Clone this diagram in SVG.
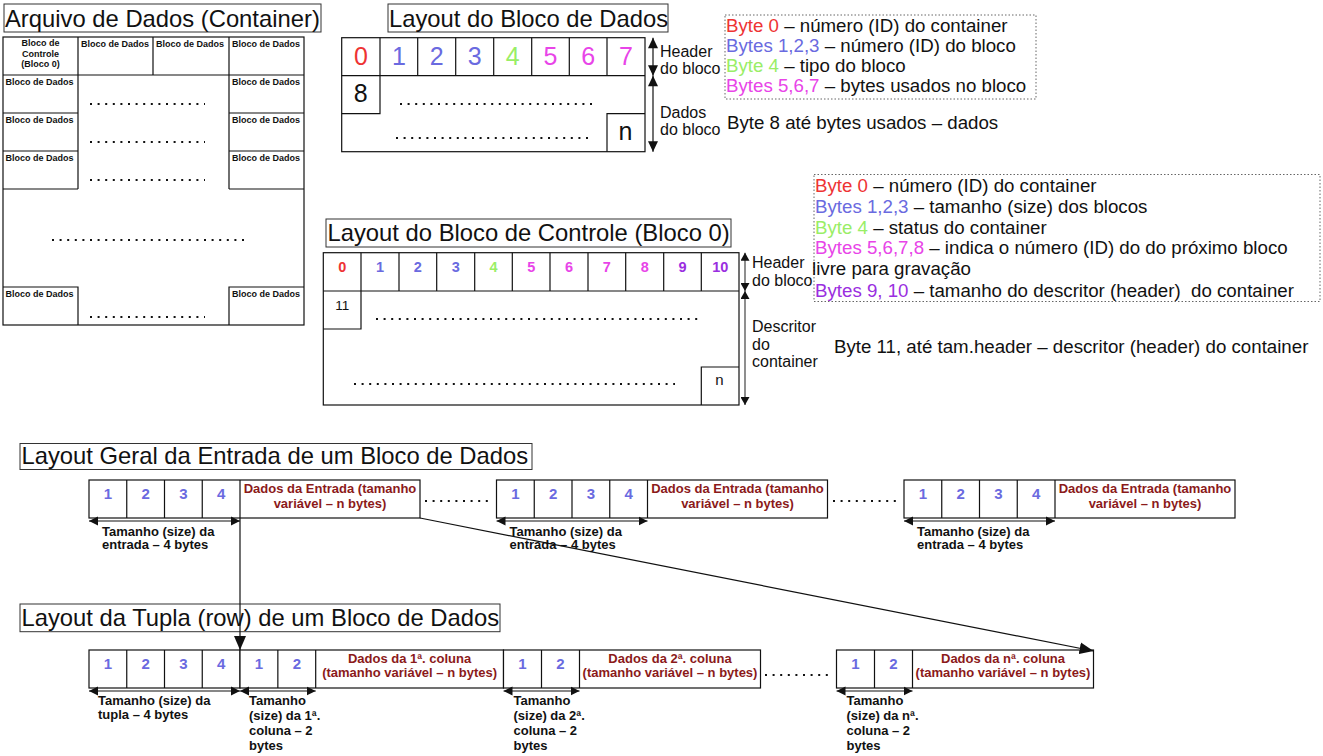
<svg xmlns="http://www.w3.org/2000/svg" width="1323" height="756" viewBox="0 0 1323 756">
<style>
text{font-family:"Liberation Sans",Arial,sans-serif;fill:#111}
.t{font-size:23.8px}
.lg{font-size:18.7px}
.l16{font-size:16px}
.b9{font-size:9px;font-weight:bold}
.b13{font-size:13px;font-weight:bold}
.m{text-anchor:middle}
.dg15{font-size:15px;font-weight:bold;fill:#6a6ae0;text-anchor:middle}
.dr{font-size:13px;font-weight:bold;fill:#8b1a1a;text-anchor:middle}
.big{font-size:25px;text-anchor:middle}
.c14{font-size:14.5px;font-weight:bold;text-anchor:middle}
.box{fill:#fff;stroke:#111;stroke-width:1.2}
.tb{fill:#fff;stroke:#333;stroke-width:1}
.ln{stroke:#111;stroke-width:1.2;fill:none}
.dots{stroke:#111;stroke-width:2;stroke-dasharray:2 5.6;fill:none}
.leg{fill:none;stroke:#666;stroke-width:1;stroke-dasharray:1.5 2}
.red{fill:#ee3333}.blu{fill:#6a6ae0}.grn{fill:#99ee66}.mag{fill:#e844e8}.pur{fill:#9a2ee0}
.dim{stroke:#111;stroke-width:1.2;fill:none;marker-start:url(#ds);marker-end:url(#de)}
.vd{stroke:#111;stroke-width:1.2;fill:none;marker-start:url(#vs);marker-end:url(#ve)}
.vc{stroke:#444;stroke-width:1.2;fill:none;marker-start:url(#cs);marker-end:url(#ce)}
.con{stroke:#111;stroke-width:1.2;fill:none;marker-end:url(#big)}
</style>
<defs>
<marker id="ds" markerUnits="userSpaceOnUse" markerWidth="10" markerHeight="10" refX="0" refY="4.5" orient="auto" viewBox="0 0 10 9"><path d="M0,4.5 L9,0 L9,9 z" fill="#111"/></marker>
<marker id="de" markerUnits="userSpaceOnUse" markerWidth="10" markerHeight="10" refX="9" refY="4.5" orient="auto" viewBox="0 0 10 9"><path d="M0,0 L9,4.5 L0,9 z" fill="#111"/></marker>
<marker id="vs" markerUnits="userSpaceOnUse" markerWidth="11" markerHeight="10" refX="0" refY="5" orient="auto" viewBox="0 0 11 10"><path d="M0,5 L10.5,0 L10.5,10 z" fill="#111"/></marker>
<marker id="ve" markerUnits="userSpaceOnUse" markerWidth="11" markerHeight="10" refX="10.5" refY="5" orient="auto" viewBox="0 0 11 10"><path d="M0,0 L10.5,5 L0,10 z" fill="#111"/></marker>
<marker id="cs" markerUnits="userSpaceOnUse" markerWidth="9" markerHeight="9" refX="0" refY="4.5" orient="auto" viewBox="0 0 9 9"><path d="M0,4.5 L8,0 L8,9 z" fill="#111"/></marker>
<marker id="ce" markerUnits="userSpaceOnUse" markerWidth="9" markerHeight="9" refX="8" refY="4.5" orient="auto" viewBox="0 0 9 9"><path d="M0,0 L8,4.5 L0,9 z" fill="#111"/></marker>
<marker id="big" markerUnits="userSpaceOnUse" markerWidth="15" markerHeight="13" refX="14" refY="6" orient="auto" viewBox="0 0 15 12"><path d="M0,0 L14,6 L0,12 z" fill="#111"/></marker>
</defs>
<rect width="1323" height="756" fill="#fff"/>

<!-- Container -->
<g id="container">
<rect class="tb" x="4" y="4" width="317" height="28"/>
<text class="t" x="5" y="27">Arquivo de Dados (Container)</text>
<rect class="box" x="3" y="37" width="301" height="288"/>
<path class="ln" d="M3,75H304 M78,37V189 M153,37V75 M229,37V189 M3,113H78 M3,151H78 M3,189H78 M229,113H304 M229,151H304 M229,189H304 M3,287H78V325 M229,325V287H304"/>
<text class="b9 m" x="40.5" y="46">Bloco de</text>
<text class="b9 m" x="40.5" y="56.5">Controle</text>
<text class="b9 m" x="40.5" y="67">(Bloco 0)</text>
<text class="b9" x="81" y="46.5">Bloco de Dados</text>
<text class="b9" x="156" y="46.5">Bloco de Dados</text>
<text class="b9" x="232" y="46.5">Bloco de Dados</text>
<text class="b9" x="5.5" y="84.5">Bloco de Dados</text>
<text class="b9" x="5.5" y="122.5">Bloco de Dados</text>
<text class="b9" x="5.5" y="160.5">Bloco de Dados</text>
<text class="b9" x="5.5" y="296.5">Bloco de Dados</text>
<text class="b9" x="232" y="84.5">Bloco de Dados</text>
<text class="b9" x="232" y="122.5">Bloco de Dados</text>
<text class="b9" x="232" y="160.5">Bloco de Dados</text>
<text class="b9" x="232" y="296.5">Bloco de Dados</text>
<path class="dots" d="M90,104H205 M90,142H205 M90,180H205 M90,317H205 M52,240H246"/>
</g>

<!-- Layout do Bloco de Dados -->
<g id="bloco-dados">
<rect class="tb" x="388" y="4" width="280" height="28"/>
<text class="t" x="389" y="27">Layout do Bloco de Dados</text>
<rect class="box" x="341.7" y="37.7" width="303.3" height="114"/>
<path class="ln" d="M341.7,75.7H645 M380,37.7V113.7H341.7 M417.7,37.7V75.7 M455.7,37.7V75.7 M493.7,37.7V75.7 M531.7,37.7V75.7 M569.3,37.7V75.7 M607,37.7V75.7 M607,151.7V113.7H645"/>
<text class="big red" x="360.9" y="65">0</text>
<text class="big blu" x="398.9" y="65">1</text>
<text class="big blu" x="436.7" y="65">2</text>
<text class="big blu" x="474.7" y="65">3</text>
<text class="big grn" x="512.7" y="65">4</text>
<text class="big mag" x="550.5" y="65">5</text>
<text class="big mag" x="588.2" y="65">6</text>
<text class="big mag" x="626" y="65">7</text>
<text class="big" x="360.8" y="102">8</text>
<text class="big" x="625.5" y="140">n</text>
<path class="dots" d="M400,104H595 M396,138H591"/>
<text class="l16" x="660" y="56.5">Header</text>
<text class="l16" x="660" y="74">do bloco</text>
<text class="l16" x="660" y="117.5">Dados</text>
<text class="l16" x="660" y="135">do bloco</text>
<line class="vd" x1="653" y1="37.7" x2="653" y2="75.7"/>
<line class="vd" x1="653" y1="75.7" x2="653" y2="151.7"/>
</g>

<!-- Legenda bloco de dados -->
<g id="legenda-dados">
<rect class="leg" x="725" y="15" width="311" height="84"/>
<text class="lg" x="726" y="31.5"><tspan class="red">Byte 0</tspan> – número (ID) do container</text>
<text class="lg" x="726" y="51.5"><tspan class="blu">Bytes 1,2,3</tspan> – número (ID) do bloco</text>
<text class="lg" x="726" y="71.5"><tspan class="grn">Byte 4</tspan> – tipo do bloco</text>
<text class="lg" x="726" y="92"><tspan class="mag">Bytes 5,6,7</tspan> – bytes usados no bloco</text>
<text class="lg" x="727" y="128.5">Byte 8 até bytes usados – dados</text>
</g>

<!-- Layout do Bloco de Controle -->
<g id="bloco-controle">
<rect class="tb" x="326" y="219" width="405" height="28"/>
<text class="t" x="327.5" y="241">Layout do Bloco de Controle (Bloco 0)</text>
<rect class="box" x="323.3" y="252.7" width="415.7" height="152.3"/>
<path class="ln" d="M323.3,291H739 M361,252.7V329H323.3 M399,252.7V291 M436.7,252.7V291 M474.7,252.7V291 M512.3,252.7V291 M550,252.7V291 M588,252.7V291 M625.7,252.7V291 M663.7,252.7V291 M701.3,252.7V291 M701.3,405V367H739"/>
<text class="c14 red" x="342.2" y="271.7">0</text>
<text class="c14 blu" x="380" y="271.7">1</text>
<text class="c14 blu" x="417.9" y="271.7">2</text>
<text class="c14 blu" x="455.7" y="271.7">3</text>
<text class="c14 grn" x="493.5" y="271.7">4</text>
<text class="c14 mag" x="531.2" y="271.7">5</text>
<text class="c14 mag" x="569" y="271.7">6</text>
<text class="c14 mag" x="606.9" y="271.7">7</text>
<text class="c14 mag" x="644.7" y="271.7">8</text>
<text class="c14 pur" x="682.5" y="271.7">9</text>
<text class="c14 pur" x="720.2" y="271.7">10</text>
<text class="m" style="font-size:13.5px" x="342.3" y="309.5">11</text>
<text class="m" style="font-size:15px" x="719.5" y="384.5">n</text>
<path class="dots" d="M376,319H698 M354,384H675"/>
<text class="l16" x="752" y="268">Header</text>
<text class="l16" x="752" y="286">do bloco</text>
<text class="l16" x="752" y="332">Descritor</text>
<text class="l16" x="752" y="349.5">do</text>
<text class="l16" x="752" y="367">container</text>
<line class="vc" x1="745" y1="252.7" x2="745" y2="291"/>
<line class="vc" x1="745" y1="291" x2="745" y2="405"/>
</g>

<!-- Legenda bloco de controle -->
<g id="legenda-controle">
<rect class="leg" x="814" y="174.5" width="506" height="127"/>
<text class="lg" x="815" y="192"><tspan class="red">Byte 0</tspan> – número (ID) do container</text>
<text class="lg" x="815" y="212.5"><tspan class="blu">Bytes 1,2,3</tspan> – tamanho (size) dos blocos</text>
<text class="lg" x="815" y="233.5"><tspan class="grn">Byte 4</tspan> – status do container</text>
<text class="lg" x="815" y="254"><tspan class="mag">Bytes 5,6,7,8</tspan> – indica o número (ID) do do próximo bloco</text>
<text class="lg" x="812" y="275">livre para gravação</text>
<text class="lg" x="815" y="296.5"><tspan class="pur">Bytes 9, 10</tspan> – tamanho do descritor (header)&#160; do container</text>
<text class="lg" x="834" y="353">Byte 11, até tam.header – descritor (header) do container</text>
</g>

<!-- Layout Geral da Entrada -->
<g id="titulo-entrada">
<rect class="tb" x="20" y="443.5" width="512" height="26"/>
<text class="t" x="21.5" y="463.5">Layout Geral da Entrada de um Bloco de Dados</text>
</g>
<g id="entrada-1">
<rect class="box" x="89" y="480" width="331" height="38"/>
<path class="ln" d="M126.75,480V518 M164.5,480V518 M202.25,480V518 M240,480V518"/>
<text class="dg15" x="107.9" y="499">1</text><text class="dg15" x="145.6" y="499">2</text><text class="dg15" x="183.4" y="499">3</text><text class="dg15" x="221.1" y="499">4</text>
<text class="dr" x="330" y="493">Dados da Entrada (tamanho</text>
<text class="dr" x="330" y="508">variável – n bytes)</text>
<line class="dim" x1="89" y1="521" x2="240" y2="521"/>
<text class="b13" x="102" y="535.5">Tamanho (size) da</text>
<text class="b13" x="102" y="549">entrada – 4 bytes</text>
</g>
<g id="entrada-2">
<rect class="box" x="496.5" y="480" width="331" height="38"/>
<path class="ln" d="M534.25,480V518 M572,480V518 M609.75,480V518 M647.5,480V518"/>
<text class="dg15" x="515.4" y="499">1</text><text class="dg15" x="553.1" y="499">2</text><text class="dg15" x="590.9" y="499">3</text><text class="dg15" x="628.6" y="499">4</text>
<text class="dr" x="737.5" y="493">Dados da Entrada (tamanho</text>
<text class="dr" x="737.5" y="508">variável – n bytes)</text>
<line class="dim" x1="496.5" y1="521" x2="647.5" y2="521"/>
<text class="b13" x="509.5" y="535.5">Tamanho (size) da</text>
<text class="b13" x="509.5" y="549">entrada – 4 bytes</text>
</g>
<g id="entrada-3">
<rect class="box" x="904" y="480" width="331" height="38"/>
<path class="ln" d="M941.75,480V518 M979.5,480V518 M1017.25,480V518 M1055,480V518"/>
<text class="dg15" x="922.9" y="499">1</text><text class="dg15" x="960.6" y="499">2</text><text class="dg15" x="998.4" y="499">3</text><text class="dg15" x="1036.1" y="499">4</text>
<text class="dr" x="1145" y="493">Dados da Entrada (tamanho</text>
<text class="dr" x="1145" y="508">variável – n bytes)</text>
<line class="dim" x1="904" y1="521" x2="1055" y2="521"/>
<text class="b13" x="917" y="535.5">Tamanho (size) da</text>
<text class="b13" x="917" y="549">entrada – 4 bytes</text>
</g>
<path class="dots" d="M425,501H491 M833,501H899"/>

<!-- Layout da Tupla -->
<g id="titulo-tupla">
<rect class="tb" x="20" y="604" width="480" height="27.7"/>
<text class="t" x="21.5" y="626">Layout da Tupla (row) de um Bloco de Dados</text>
</g>
<g id="tupla-tamanho">
<rect class="box" x="89" y="650" width="151" height="38"/>
<path class="ln" d="M126.75,650V688 M164.5,650V688 M202.25,650V688"/>
<text class="dg15" x="107.9" y="669">1</text><text class="dg15" x="145.6" y="669">2</text><text class="dg15" x="183.4" y="669">3</text><text class="dg15" x="221.1" y="669">4</text>
<line class="dim" x1="89" y1="691" x2="240" y2="691"/>
<text class="b13" x="98" y="704.5">Tamanho (size) da</text>
<text class="b13" x="98" y="719">tupla – 4 bytes</text>
</g>
<g id="tupla-coluna-1">
<rect class="box" x="240" y="650" width="263.5" height="38"/>
<path class="ln" d="M277.85,650V688 M315.7,650V688"/>
<text class="dg15" x="258.9" y="669">1</text><text class="dg15" x="296.8" y="669">2</text>
<text class="dr" x="409.6" y="663">Dados da 1ª. coluna</text>
<text class="dr" x="409.6" y="677">(tamanho variável – n bytes)</text>
<line class="dim" x1="240" y1="691" x2="315.7" y2="691"/>
<text class="b13" x="249" y="704.5">Tamanho</text>
<text class="b13" x="249" y="719.5">(size) da 1ª.</text>
<text class="b13" x="249" y="735">coluna – 2</text>
<text class="b13" x="249" y="750">bytes</text>
</g>
<g id="tupla-coluna-2">
<rect class="box" x="503.5" y="650" width="257" height="38"/>
<path class="ln" d="M541.5,650V688 M579.5,650V688"/>
<text class="dg15" x="522.5" y="669">1</text><text class="dg15" x="560.5" y="669">2</text>
<text class="dr" x="670" y="663">Dados da 2ª. coluna</text>
<text class="dr" x="670" y="677">(tamanho variável – n bytes)</text>
<line class="dim" x1="503.5" y1="691" x2="579.5" y2="691"/>
<text class="b13" x="513.5" y="704.5">Tamanho</text>
<text class="b13" x="513.5" y="719.5">(size) da 2ª.</text>
<text class="b13" x="513.5" y="735">coluna – 2</text>
<text class="b13" x="513.5" y="750">bytes</text>
</g>
<path class="dots" d="M765,675H831"/>
<g id="tupla-coluna-n">
<rect class="box" x="836.5" y="650" width="257" height="38"/>
<path class="ln" d="M874.5,650V688 M912.5,650V688"/>
<text class="dg15" x="855.5" y="669">1</text><text class="dg15" x="893.5" y="669">2</text>
<text class="dr" x="1003" y="663">Dados da nª. coluna</text>
<text class="dr" x="1003" y="677">(tamanho variável – n bytes)</text>
<line class="dim" x1="836.5" y1="691" x2="912.5" y2="691"/>
<text class="b13" x="846.5" y="704.5">Tamanho</text>
<text class="b13" x="846.5" y="719.5">(size) da nª.</text>
<text class="b13" x="846.5" y="735">coluna – 2</text>
<text class="b13" x="846.5" y="750">bytes</text>
</g>

<!-- Connectors -->
<g id="connectors">
<line class="con" x1="240" y1="518" x2="240" y2="650"/>
<line class="con" x1="420" y1="518" x2="1093.5" y2="651"/>
</g>
</svg>
